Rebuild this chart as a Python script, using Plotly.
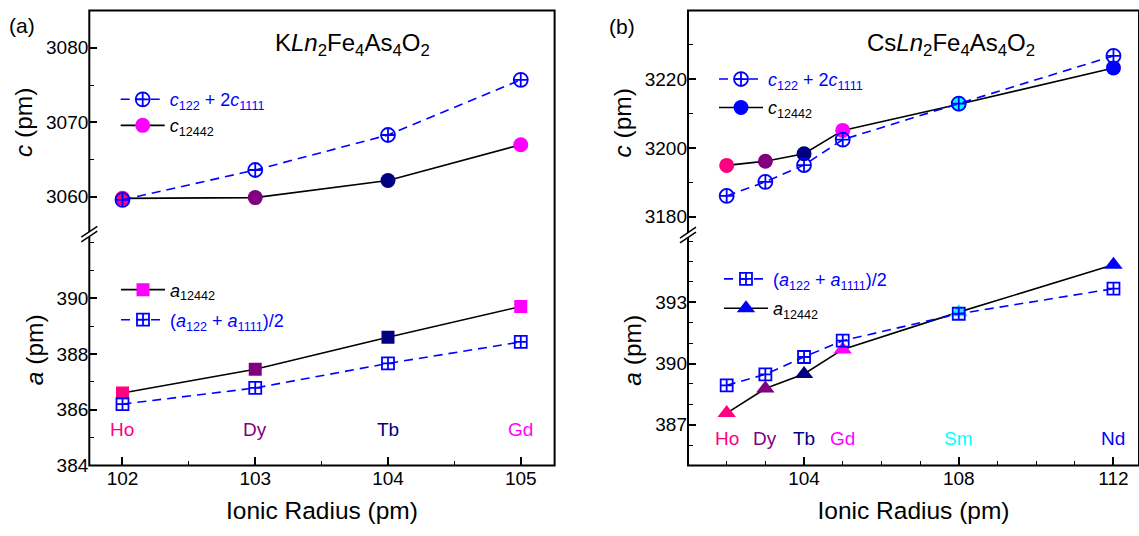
import plotly.graph_objects as go

W, H = 1139, 536

# ---------------- data ----------------
elements_a = ["Ho", "Dy", "Tb", "Gd"]
radius_a = [102, 103, 104, 105]
c12442_a = [3059.8, 3059.9, 3062.2, 3067.0]
csum_a = [3059.6, 3063.6, 3068.3, 3075.7]
a12442_a = [386.6, 387.45, 388.6, 389.7]
aavg_a = [386.2, 386.78, 387.66, 388.43]

elements_b = ["Ho", "Dy", "Tb", "Gd", "Sm", "Nd"]
radius_b = [102, 103, 104, 105, 108, 112]
c12442_b = [3194.9, 3196.1, 3198.3, 3205.1, 3212.7, 3223.3]
csum_b = [3186.0, 3190.1, 3195.0, 3202.4, 3212.9, 3226.8]
a12442_b = [387.57, 388.77, 389.49, 390.69, 392.52, 394.84]
aavg_b = [388.93, 389.47, 390.32, 391.12, 392.44, 393.67]

elem_colors = {"Ho": "#FF0080", "Dy": "#800080", "Tb": "#000080",
               "Gd": "#FF00FF", "Sm": "#00FFFF", "Nd": "#0000FF"}

FONT = "Arial, Liberation Sans, sans-serif"
BLUE = "#0000FF"
DASH = "9px,6px"


def px(x):
    return x / W


def py(y):
    return 1 - y / H


TOP, BOT = 10.8, 475.2
A_L, A_R, A_BRK = 89.3, 554.6, 239
B_L, B_R, B_BRK = 688, 1139, 240

fig = go.Figure()

NAME_CSUM = '<span style="color:#0000FF"><i>c</i><sub>122</sub> + 2<i>c</i><sub>1111</sub></span>'
NAME_AAVG = '<span style="color:#0000FF">(<i>a</i><sub>122</sub> + <i>a</i><sub>1111</sub>)/2</span>'


def solid_trace(xs, ys, elems, sym, size, xa, ya, name, legend):
    order = list(range(len(xs)))[::-1]  # first point sets legend colour
    return go.Scatter(
        x=[xs[i] for i in order], y=[ys[i] for i in order],
        mode="lines+markers", xaxis=xa, yaxis=ya,
        line=dict(color="black", width=1.6),
        marker=dict(symbol=sym, size=size, color=[elem_colors[elems[i]] for i in order],
                    line=dict(width=0)),
        name=name, legend=legend, showlegend=True)


def dashed_trace(xs, ys, sym, size, xa, ya, name, legend):
    return go.Scatter(
        x=xs, y=ys, mode="lines+markers", xaxis=xa, yaxis=ya,
        line=dict(color=BLUE, width=1.6, dash=DASH),
        marker=dict(symbol=sym, size=size, color=BLUE, line=dict(width=1.8, color=BLUE)),
        name=name, legend=legend, showlegend=True)


# panel (a)
fig.add_trace(solid_trace(radius_a, c12442_a, elements_a, "circle", 15, "x", "y",
                          "<i>c</i><sub>12442</sub>", "legend2"))
fig.add_trace(dashed_trace(radius_a, csum_a, "circle-cross-open", 14, "x", "y",
                           NAME_CSUM, "legend"))
fig.add_trace(solid_trace(radius_a, a12442_a, elements_a, "square", 13, "x", "y2",
                          "<i>a</i><sub>12442</sub>", "legend3"))
fig.add_trace(dashed_trace(radius_a, aavg_a, "square-cross-open", 12, "x", "y2",
                           NAME_AAVG, "legend4"))
# panel (b)
fig.add_trace(solid_trace(radius_b, c12442_b, elements_b, "circle", 15, "x2", "y3",
                          "<i>c</i><sub>12442</sub>", "legend6"))
fig.add_trace(dashed_trace(radius_b, csum_b, "circle-cross-open", 14, "x2", "y3",
                           NAME_CSUM, "legend5"))
fig.add_trace(solid_trace(radius_b, a12442_b, elements_b, "triangle-up", 16, "x2", "y4",
                          "<i>a</i><sub>12442</sub>", "legend8"))
fig.add_trace(dashed_trace(radius_b, aavg_b, "square-cross-open", 12, "x2", "y4",
                           NAME_AAVG, "legend7"))

tickfont = dict(family=FONT, size=19, color="black")
titlefont = dict(family=FONT, size=24.5, color="black")

common_axis = dict(showline=False, ticks="inside", ticklen=8, tickwidth=1.6,
                   tickcolor="black", tickfont=tickfont, showgrid=False,
                   zeroline=False)
minor = dict(ticks="inside", ticklen=4.5, tickwidth=1.3, tickcolor="black", showgrid=False)

fig.update_layout(
    width=W, height=H, margin=dict(l=0, r=0, t=0, b=0), showlegend=True,
    paper_bgcolor="white", plot_bgcolor="white", font=dict(family=FONT),
    xaxis=dict(domain=[px(A_L), px(A_R)], anchor="y2", range=[101.75, 105.255],
               tickvals=[102, 103, 104, 105], minor=dict(dtick=0.5, tick0=101.5, **minor),
               title=dict(text="Ionic Radius (pm)", font=titlefont, standoff=13),
               **common_axis),
    yaxis=dict(domain=[py(A_BRK), py(TOP)], anchor="x", range=[3055, 3085],
               tickvals=[3060, 3070, 3080], minor=dict(dtick=5, tick0=3055, **minor),
               title=dict(text="<i>c</i> (pm)", font=titlefont, standoff=6),
               **common_axis),
    yaxis2=dict(domain=[py(BOT), py(A_BRK)], anchor="x", range=[384, 392.3],
                tickvals=[384, 386, 388, 390], minor=dict(dtick=1, tick0=384, **minor),
                title=dict(text="<i>a</i> (pm)", font=titlefont, standoff=6),
                **common_axis),
    xaxis2=dict(domain=[px(B_L), px(B_R)], anchor="y4", range=[101, 112.66],
                tickvals=[104, 108, 112], minor=dict(dtick=1, tick0=101, **minor),
                title=dict(text="Ionic Radius (pm)", font=titlefont, standoff=13),
                **common_axis),
    yaxis3=dict(domain=[py(B_BRK), py(TOP)], anchor="x2", range=[3174.6, 3240],
                tickvals=[3180, 3200, 3220], minor=dict(dtick=10, tick0=3180, **minor),
                title=dict(text="<i>c</i> (pm)", font=titlefont, standoff=6),
                **common_axis),
    yaxis4=dict(domain=[py(BOT), py(B_BRK)], anchor="x2", range=[385, 396.3],
                tickvals=[387, 390, 393], minor=dict(dtick=1, tick0=385, **minor),
                title=dict(text="<i>a</i> (pm)", font=titlefont, standoff=6),
                **common_axis),
)

legfont = dict(family=FONT, size=18, color="black")
leg = dict(font=legfont, bgcolor="rgba(0,0,0,0)", borderwidth=0, visible=True,
           xanchor="left", yanchor="middle", itemwidth=44)
# (line start x, item centre y) for each single-entry legend
leg_pos = {
    "legend": (120.7, 101.7), "legend2": (120.7, 128.3),
    "legend3": (121, 296), "legend4": (121, 326.7),
    "legend5": (719, 81), "legend6": (719, 110),
    "legend7": (724, 285), "legend8": (724, 315),
}
fig.update_layout(**{k: dict(x=px(v[0] - 5), y=py(v[1]), **leg) for k, v in leg_pos.items()})

shapes = []
for (l, r, brk) in [(A_L, A_R, A_BRK), (B_L, B_R, B_BRK)]:
    shapes.append(dict(type="rect", xref="paper", yref="paper",
                       x0=px(l), x1=px(r), y0=py(BOT), y1=py(TOP),
                       line=dict(color="black", width=2), fillcolor="rgba(0,0,0,0)",
                       layer="above"))
    shapes.append(dict(type="path", xref="paper", yref="paper",
                       path=f"M {px(l-7)},{py(brk+3)} L {px(l+7)},{py(brk-7)} L {px(l+7)},{py(brk-2)} L {px(l-7)},{py(brk+8)} Z",
                       fillcolor="white", line=dict(width=0), layer="above"))
    for dy in (0, 5):
        shapes.append(dict(type="line", xref="paper", yref="paper",
                           x0=px(l-8), y0=py(brk+3+dy), x1=px(l+8), y1=py(brk-8+dy),
                           line=dict(color="black", width=1.5), layer="above"))
fig.update_layout(shapes=shapes)

ann = []
for e, r in zip(elements_a, radius_a):
    ann.append(dict(x=r, y=385.29, xref="x", yref="y2", text=e, showarrow=False,
                    xanchor="center", yanchor="middle",
                    font=dict(family=FONT, size=19, color=elem_colors[e])))
for e, r in zip(elements_b, radius_b):
    ann.append(dict(x=r, y=386.32, xref="x2", yref="y4", text=e, showarrow=False,
                    xanchor="center", yanchor="middle",
                    font=dict(family=FONT, size=19, color=elem_colors[e])))
texts = [
    (352, 45, "K<i>Ln</i><sub>2</sub>Fe<sub>4</sub>As<sub>4</sub>O<sub>2</sub>", 24),
    (951, 45, "Cs<i>Ln</i><sub>2</sub>Fe<sub>4</sub>As<sub>4</sub>O<sub>2</sub>", 24),
    (22, 26, "(a)", 21),
    (622, 27, "(b)", 21),
]
for x, y, t, s in texts:
    ann.append(dict(x=px(x), y=py(y), xref="paper", yref="paper", showarrow=False,
                    xanchor="center", yanchor="middle", text=t,
                    font=dict(family=FONT, size=s, color="black")))
fig.update_layout(annotations=ann)

fig.write_html("out.html", config={"displayModeBar": False},
               post_script="document.body.style.margin='0';document.body.style.overflow='hidden';")
